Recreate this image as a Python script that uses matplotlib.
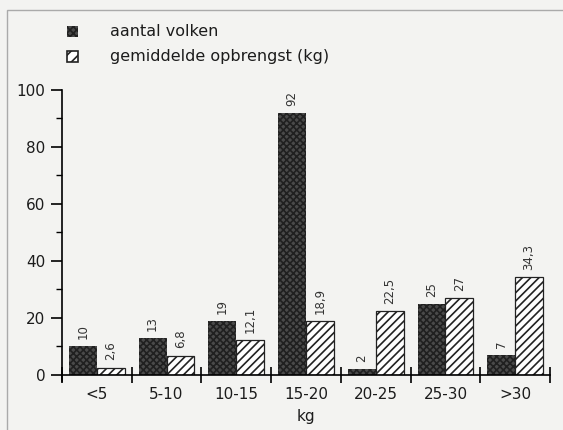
import matplotlib.pyplot as plt
import numpy as np
from matplotlib.patches import Rectangle

plt.rcParams['font.family'] = ['DejaVu Sans']
plt.rcParams['hatch.linewidth'] = 1.2

# data
categories = ['<5', '5-10', '10-15', '15-20', '20-25', '25-30', '>30']
aantal_volken = [10, 13, 19, 92, 2, 25, 7]
opbrengst = [2.6, 6.8, 12.1, 18.9, 22.5, 27, 34.3]
opbrengst_labels = ['2,6', '6,8', '12,1', '18,9', '22,5', '27', '34,3']

bg = '#f3f3f1'
ink = '#1c1c1c'
fig = plt.figure(figsize=(5.63, 4.30), dpi=100, facecolor=bg)
ax = fig.add_axes([0.110, 0.128, 0.867, 0.663], facecolor=bg)

x = np.arange(len(categories))
w = 0.4

ax.bar(x - w / 2, aantal_volken, width=w, facecolor='#4a4a4a',
       edgecolor='#202020', hatch='xxxxx', linewidth=0)
ax.bar(x + w / 2, opbrengst, width=w, facecolor='white',
       edgecolor='#222222', hatch='////', linewidth=0.9)

for xi, v in zip(x, aantal_volken):
    ax.text(xi - w / 2, v + 2.5, str(v), rotation=90, ha='center', va='bottom',
            fontsize=8.5, color='#333333')
for xi, v, lab in zip(x, opbrengst, opbrengst_labels):
    ax.text(xi + w / 2, v + 2.5, lab, rotation=90, ha='center', va='bottom',
            fontsize=8.5, color='#333333')

ax.set_xlim(-0.5, len(categories) - 0.5)
ax.set_ylim(0, 100)
ax.set_yticks([0, 20, 40, 60, 80, 100])
ax.set_yticks([10, 30, 50, 70, 90], minor=True)
ax.set_xticks(np.arange(len(categories) + 1) - 0.5)
ax.set_xticklabels([])
ax.set_xticks(x, minor=True)
ax.set_xticklabels(categories, minor=True, fontsize=11, color=ink)
ax.tick_params(axis='x', which='major', direction='inout', length=12, width=1.2)
ax.tick_params(axis='x', which='minor', length=0, pad=9)
ax.tick_params(axis='y', which='major', direction='out', length=8, width=1.2,
               labelsize=11, labelcolor=ink, pad=4)
ax.tick_params(axis='y', which='minor', direction='out', length=4, width=1.0)
ax.set_xlabel('kg', fontsize=11, labelpad=5, color=ink)

for s in ['top', 'right']:
    ax.spines[s].set_visible(False)
for s in ['left', 'bottom']:
    ax.spines[s].set_linewidth(1.2)
ax.spines['left'].set_bounds(-2, 100)

# legend
fig.patches.append(Rectangle((0.119, 0.913), 0.019, 0.026, transform=fig.transFigure,
                             facecolor='#4a4a4a', edgecolor='#202020', hatch='xxxxx',
                             linewidth=0))
fig.patches.append(Rectangle((0.119, 0.855), 0.019, 0.026, transform=fig.transFigure,
                             facecolor='white', edgecolor='#222222', hatch='///',
                             linewidth=1.2))
fig.text(0.195, 0.926, 'aantal volken', fontsize=11.5, va='center', color=ink)
fig.text(0.195, 0.868, 'gemiddelde opbrengst (kg)', fontsize=11.5, va='center',
         color=ink)

# frame around the figure
fig.patches.append(Rectangle((0.013, -0.1), 1.2, 1.077, transform=fig.transFigure,
                             facecolor='none', edgecolor='#aaaaaa', linewidth=1.0))

fig.savefig('out.png', dpi=100, facecolor=bg)
